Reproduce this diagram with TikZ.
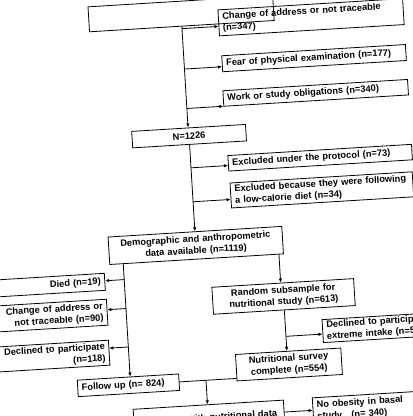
\documentclass[tikz,border=0pt]{standalone}
\usepackage{fontspec}
\setmainfont{Liberation Sans}
\usetikzlibrary{arrows.meta}
\begin{document}
\begin{tikzpicture}[x=1pt,y=1pt,
  bx/.style={draw, line width=0.8pt, inner xsep=4pt, inner ysep=0pt,
    font=\fontsize{9.3}{11.6}\selectfont\bfseries},
  ln/.style={line width=0.8pt},
  arr/.style={line width=0.8pt, -{Latex[length=4pt,width=3.5pt]}}]
\useasboundingbox (0,-416) rectangle (413,0);
\fill[white] (0,-416) rectangle (413,0);
\clip (0,-416) rectangle (413,0);
\begin{scope}[rotate around={3.5:(206,-208)}, transform shape]
% boxes
\node[bx, minimum height=25pt, text width=177pt] (A) at (193,-12.5) {};
\node[bx, minimum height=26pt, text width=177pt, align=left] (chg347) at (322.5,-24) {Change of address or not traceable\\(n=347)};
\node[bx, minimum height=16pt, text width=176pt, align=left] (fear) at (323,-65) {Fear of physical examination (n=177)};
\node[bx, minimum height=15.5pt, text width=177pt, align=left] (work) at (322.5,-99.75) {Work or study obligations (n=340)};
\node[bx, minimum height=16.5pt, text width=106pt, align=center] (N1226) at (193.5,-135.25) {N=1226};
\node[bx, minimum height=15.5pt, text width=176pt, align=left] (exprot) at (323,-164.75) {Excluded under the protocol (n=73)};
\node[bx, minimum height=25pt, text width=174.5pt, align=left] (exdiet) at (322.75,-197) {Excluded because they were following\\a low-calorie diet (n=34)};
\node[bx, minimum height=27.5pt, text width=166pt, align=center] (demo) at (193.5,-244.75) {Demographic and anthropometric\\data available (n=1119)};
\node[bx, minimum height=17pt, text width=112pt, align=right] (died) at (40.5,-275.5) {Died (n=19)};
\node[bx, minimum height=26pt, text width=112pt, align=right] (chg90) at (41,-306) {Change of address or\\not traceable (n=90)};
\node[bx, minimum height=25pt, text width=112pt, align=right] (decl118) at (40.5,-346.5) {Declined to participate\\(n=118)};
\node[bx, minimum height=16.5pt, text width=93.5pt, align=left] (follow) at (117.75,-380.25) {Follow up (n= 824)};
\node[bx, minimum height=27pt, text width=134pt, align=center] (random) at (278,-301) {Random subsample for\\nutritional study (n=613)};
\node[bx, minimum height=23pt, text width=122pt, align=left] (declR) at (380,-338) {Declined to participate or\\extreme intake (n=59)};
\node[bx, minimum height=26.5pt, text width=97.5pt, align=center] (nutr) at (279.25,-369.25) {Nutritional survey\\complete (n=554)};
\node[bx, minimum height=27pt, text width=142.5pt, align=center] (fwnut) at (196.25,-418) {Follow up with nutritional data};
\node[bx, minimum height=27pt, text width=102pt, align=left] (noob) at (355.5,-417.5) {No obesity in basal\\study\ \ \ (n= 340)};
% helper coordinates
\coordinate (b1) at (0,-27.5);
\coordinate (b2) at (0,-68);
\coordinate (b3) at (0,-107.5);
\coordinate (b4) at (0,-167);
\coordinate (b5) at (0,-201);
\coordinate (L) at (120,0);
\coordinate (b6) at (0,-274.5);
\coordinate (b7) at (0,-303.5);
\coordinate (b8) at (0,-342);
\coordinate (R) at (276,0);
\coordinate (R2) at (278,0);
\coordinate (b9) at (0,-341);
\coordinate (F) at (0,-380);
\coordinate (M) at (195.5,-380);
\coordinate (b10) at (0,-416.5);
% connectors
\draw[arr] (A.south) -- (N1226.north -| A.south);
\draw[arr] (A.south |- b1) -- (chg347.west |- b1);
\draw[arr] (A.south |- b2) -- (fear.west |- b2);
\draw[arr] (A.south |- b3) -- (work.west |- b3);
\draw[arr] (N1226.south) -- (demo.north);
\draw[arr] (N1226.south |- b4) -- (exprot.west |- b4);
\draw[arr] (N1226.south |- b5) -- (exdiet.west |- b5);
\draw[arr] (demo.south -| L) -- (follow.north -| L);
\draw[arr] (L |- b6) -- (died.east |- b6);
\draw[arr] (L |- b7) -- (chg90.east |- b7);
\draw[arr] (L |- b8) -- (decl118.east |- b8);
\draw[arr] (demo.south -| R) -- (random.north -| R);
\draw[arr] (random.south -| R2) -- (nutr.north -| R2);
\draw[arr] (R2 |- b9) -- (declR.west |- b9);
\draw[ln] (follow.east |- F) -- (nutr.west |- F);
\draw[arr] (M) -- (fwnut.north -| M);
\draw[arr] (fwnut.east |- b10) -- (noob.west |- b10);
\end{scope}
\end{tikzpicture}
\end{document}
